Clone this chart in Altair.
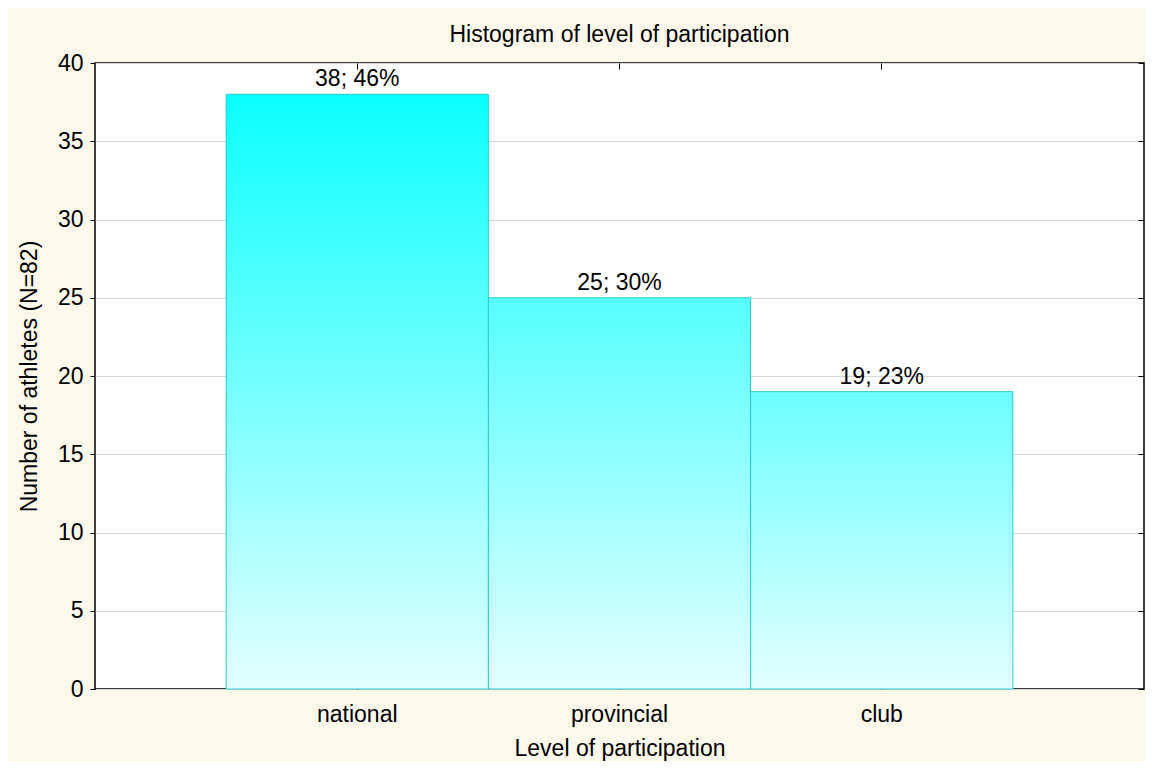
import altair as alt
import pandas as pd

categories = ["national", "provincial", "club"]
counts = [38, 25, 19]
total_n = 82
labels = [f"{c}; {round(c / total_n * 100)}%" for c in counts]

top_colors = ["#0AFFFF", "#56FFFF", "#6CFFFF"]
bottom_color = "#E4FFFF"
FONT = "Liberation Sans"
FS = 23

df = pd.DataFrame({"level": categories, "count": counts, "label": labels})

xscale = alt.Scale(domain=categories, paddingInner=0, paddingOuter=0.5)
yscale = alt.Scale(domain=[0, 40], nice=False)

base = alt.Chart(df)

# main axes layer (invisible bars)
frame = base.mark_bar(opacity=0).encode(
    x=alt.X("level:N", sort=categories, scale=xscale,
            axis=alt.Axis(orient="bottom", offset=-6, tickSize=6, domain=False,
                          tickColor="black", labelAngle=0, labelPadding=14,
                          labelFont=FONT, labelFontSize=FS, labelColor="black",
                          title="Level of participation", titleFont=FONT,
                          titleFontSize=FS, titleFontWeight="normal",
                          titleColor="black", titlePadding=11)),
    y=alt.Y("count:Q", scale=yscale,
            axis=alt.Axis(orient="left", values=list(range(0, 41, 5)),
                          tickSize=5, domain=False, tickColor="black",
                          grid=True, gridColor="#D6D6D6", gridWidth=1,
                          labelFont=FONT, labelFontSize=FS, labelColor="black",
                          labelPadding=7,
                          title="Number of athletes (N=82)", titleFont=FONT,
                          titleFontSize=FS, titleFontWeight="normal",
                          titleColor="black", titlePadding=16)),
)

bars = []
for cat, top in zip(categories, top_colors):
    grad = alt.Gradient(
        gradient="linear",
        stops=[alt.GradientStop(color=top, offset=0),
               alt.GradientStop(color=bottom_color, offset=1)],
        x1=0, x2=0, y1=0, y2=1,
    )
    bars.append(
        base.transform_filter(alt.datum.level == cat)
        .mark_bar(stroke="#2ACBCB", strokeWidth=1)
        .encode(
            x=alt.X("level:N", sort=categories, scale=xscale, axis=None),
            y=alt.Y("count:Q", scale=yscale, axis=None),
            fill=alt.value(grad),
        )
    )

text = base.mark_text(baseline="bottom", dy=-3, font=FONT, fontSize=FS,
                      color="black").encode(
    x=alt.X("level:N", sort=categories, scale=xscale, axis=None),
    y=alt.Y("count:Q", scale=yscale, axis=None),
    text="label:N",
)

mirror = base.mark_bar(opacity=0).encode(
    x=alt.X("level:N", sort=categories, scale=xscale,
            axis=alt.Axis(orient="top", offset=-6, tickSize=6, domain=False,
                          labels=False, title=None, tickColor="black")),
    y=alt.Y("count:Q", scale=yscale,
            axis=alt.Axis(orient="right", offset=-6, tickSize=6, domain=False,
                          labels=False, title=None, grid=False,
                          values=list(range(0, 41, 5)), tickColor="black")),
)

chart = alt.layer(frame, *bars, text, mirror).resolve_axis(
    x="independent", y="independent"
).properties(
    width=1049,
    height=626,
    title=alt.TitleParams("Histogram of level of participation", font=FONT,
                          fontSize=FS, fontWeight="normal", color="black",
                          anchor="middle", offset=5),
    autosize=alt.AutoSizeParams(type="none"),
    padding={"left": 87, "top": 55, "right": 1, "bottom": 73},
    background="#FDF8EC",
).configure_view(
    fill="white", stroke="black", strokeWidth=1.5
)

chart.save("out.html", embed_options={"renderer": "svg", "actions": False})
